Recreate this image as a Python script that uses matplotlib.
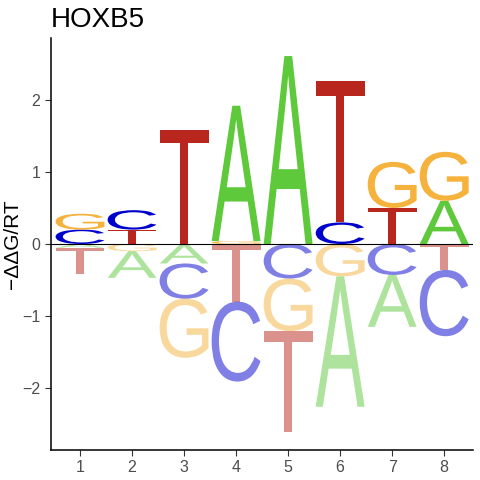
import matplotlib
matplotlib.use("Agg")
import matplotlib.pyplot as plt
from matplotlib.textpath import TextPath
from matplotlib.patches import PathPatch
from matplotlib.font_manager import FontProperties
from matplotlib.transforms import Affine2D

plt.rcParams['font.family'] = ['Liberation Sans', 'DejaVu Sans']

positions = [1, 2, 3, 4, 5, 6, 7, 8]
energy_A = [-0.05, -0.37, -0.27, 1.88, 2.61, -1.81, -0.72, 0.60]
energy_C = [0.20, 0.27, -0.49, -1.11, -0.48, 0.30, -0.43, -0.92]
energy_G = [0.22, -0.10, -0.82, 0.04, -0.73, -0.45, 0.64, 0.68]
energy_T = [-0.37, 0.20, 1.58, -0.80, -1.40, 1.97, 0.50, -0.36]

letters = ['A', 'C', 'G', 'T']
energies = {'A': energy_A, 'C': energy_C, 'G': energy_G, 'T': energy_T}
colors = {'A': '#5DC93B', 'C': '#0000CC', 'G': '#F5B23D', 'T': '#B8261D'}

letter_font = FontProperties(family='Liberation Sans')
letter_width = 0.94


def draw_letter(ax, ch, xc, y0, h, color, alpha):
    tp = TextPath((0, 0), ch, size=1, prop=letter_font)
    ext = tp.get_extents()
    tr = (Affine2D()
          .translate(-ext.x0, -ext.y0)
          .scale(letter_width / ext.width, h / ext.height)
          .translate(xc - letter_width / 2, y0))
    path = tr.transform_path(tp)
    ax.add_patch(PathPatch(path, facecolor=color, edgecolor='none',
                           alpha=alpha, lw=0))


fig = plt.figure(figsize=(4.8, 4.8), dpi=100)
ax = fig.add_axes([0.106, 0.0625, 0.879, 0.859])

for i, x in enumerate(positions):
    vals = [(ch, energies[ch][i]) for ch in letters]
    pos = sorted([v for v in vals if v[1] > 0], key=lambda v: v[1])
    neg = sorted([v for v in vals if v[1] < 0], key=lambda v: -v[1])
    base = 0.0
    for ch, v in pos:
        draw_letter(ax, ch, x, base, v, colors[ch], 1.0)
        base += v
    base = 0.0
    for ch, v in neg:
        draw_letter(ax, ch, x, base + v, -v, colors[ch], 0.5)
        base += v

ax.axhline(0, color='black', lw=0.8)

ax.set_xlim(0.44, 8.55)
ax.set_ylim(-2.86, 2.865)
ax.set_xticks(positions)
ax.set_yticks([-2, -1, 0, 1, 2])
ax.tick_params(axis='both', labelsize=11.5, labelcolor='#4D4D4D',
               color='#333333', length=4, width=0.8)
for side in ['top', 'right']:
    ax.spines[side].set_visible(False)
for side in ['left', 'bottom']:
    ax.spines[side].set_linewidth(1.1)
    ax.spines[side].set_color('black')

ax.set_ylabel('\u2212\u0394\u0394G/RT', fontsize=15, color='black')
ax.yaxis.set_label_coords(-0.068, 0.5)
ax.set_title('HOXB5', loc='left', fontsize=20, pad=8)

fig.savefig('out.png', dpi=100)
